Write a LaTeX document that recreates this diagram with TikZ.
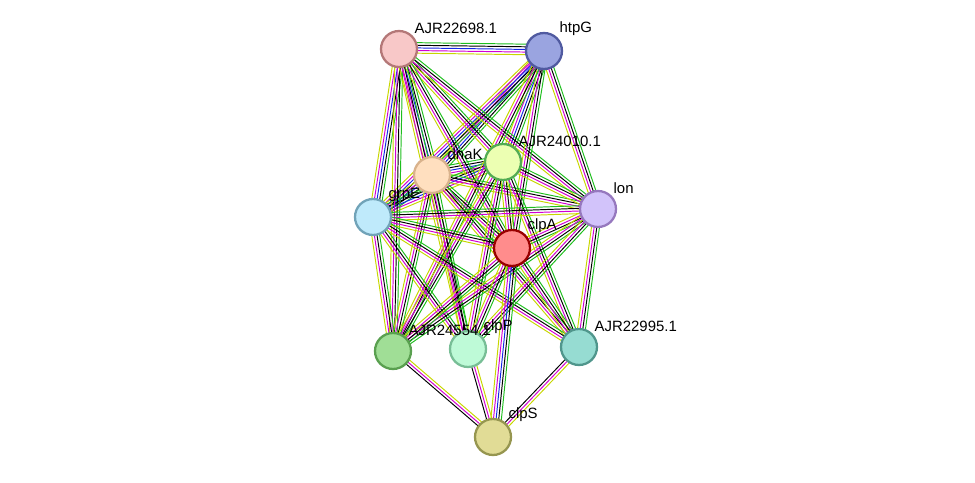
\documentclass[tikz,border=0pt]{standalone}
\usepackage{fontspec}
\setmainfont{Liberation Sans}
\usetikzlibrary{calc,backgrounds}
\definecolor{tm}{RGB}{199,214,0}
\definecolor{gn}{RGB}{30,190,30}
\definecolor{ex}{RGB}{210,0,210}
\definecolor{db}{RGB}{20,40,230}
\definecolor{cy}{RGB}{0,190,230}
\definecolor{fP1}{RGB}{248,200,200}\definecolor{bP1}{RGB}{180,120,120}
\definecolor{fhtpG}{RGB}{154,164,224}\definecolor{bhtpG}{RGB}{80,90,160}
\definecolor{flon}{RGB}{210,195,250}\definecolor{blon}{RGB}{150,120,190}
\definecolor{fP3}{RGB}{160,222,150}\definecolor{bP3}{RGB}{90,160,80}
\definecolor{fclpP}{RGB}{190,250,215}\definecolor{bclpP}{RGB}{120,190,150}
\definecolor{fP4}{RGB}{150,220,210}\definecolor{bP4}{RGB}{80,150,140}
\definecolor{fclpS}{RGB}{225,220,150}\definecolor{bclpS}{RGB}{150,150,80}
\newcommand\lnk[3]{\foreach \c [count=\i] in {#3}{\draw[\c, line width=0.55pt] ($(#1)!{(\i-2.5)*1.5pt}!90:(#2)$) -- ($(#2)!{(\i-2.5)*1.5pt}!-90:(#1)$);}}
\tikzset{
	prot/.style 2 args = {circle, minimum size=0.72cm, inner sep=0pt, line width=1.3pt, fill=#1, draw=#2},
	lab/.style = {font=\fontsize{8.5}{10}\selectfont, anchor=south west, inner sep=1pt}
}
\begin{document}
\begin{tikzpicture}[x = 0.02cm, y = -0.02cm]
	\useasboundingbox (0,0) rectangle (975,483);

	\node[prot={fP1}{bP1}] (P1) at (399,49) {};	%AJR22698.1
	\node[prot={fhtpG}{bhtpG}] (htpG) at (544,51) {};
	\node[prot={orange!25}{brown!60}] (dnaK) at (432,175) {};
	\node[prot={lime!30}{green!35!gray}] (P2) at (503,162) {};	%AJR24010.1
	\node[prot={cyan!25}{cyan!40!gray}] (grpE) at (373,217) {};
	\node[prot={flon}{blon}] (lon) at (598,209) {};
	\node[prot={red!45}{red!60!black}] (clpA) at (512,248) {};
	\node[prot={fP3}{bP3}] (P3) at (393,351) {};	%AJR24554.1
	\node[prot={fclpP}{bclpP}] (clpP) at (468,349) {};
	\node[prot={fP4}{bP4}] (P4) at (579,347) {};	%AJR22995.1
	\node[prot={fclpS}{bclpS}] (clpS) at (493,437) {};

	\node[lab] at (P1.north east) {AJR22698.1};
	\node[lab] at (htpG.north east) {htpG};
	\node[lab] at (dnaK.north east) {dnaK};
	\node[lab] at (P2.north east) {AJR24010.1};
	\node[lab] at (grpE.north east) {grpE};
	\node[lab] at (lon.north east) {lon};
	\node[lab] at (clpA.north east) {clpA};
	\node[lab] at (P3.north east) {AJR24554.1};
	\node[lab] at (clpP.north east) {clpP};
	\node[lab] at (P4.north east) {AJR22995.1};
	\node[lab] at (clpS.north east) {clpS};

	\begin{pgfonlayer}{background}
		% chaperone group
		\foreach \a/\b in {P1/htpG, P1/dnaK, P1/grpE, htpG/dnaK, htpG/grpE, htpG/P2, dnaK/grpE, dnaK/P2, grpE/P2}
			\lnk{\a}{\b}{tm,ex,db,black,gn};
		% the rest
		\foreach \a/\b in {P1/P2, P1/lon, P1/clpA, P1/P3, P1/clpP, htpG/lon, htpG/clpA, htpG/P3, dnaK/lon, dnaK/clpA,
			dnaK/P3, dnaK/clpP, dnaK/P4, P2/lon, P2/clpA, P2/P3, P2/clpP, P2/P4, grpE/lon, grpE/clpA, grpE/P3,
			grpE/clpP, grpE/P4, lon/clpA, lon/P3, lon/clpP, lon/P4, clpA/P3, clpA/clpP, clpA/P4}
			\lnk{\a}{\b}{tm,ex,black,gn};
		\foreach \a/\b in {clpS/P3, clpS/clpP, clpS/P4}
			\lnk{\a}{\b}{tm,ex,black};
		\lnk{clpA}{clpS}{tm,ex,db,black,gn};
	\end{pgfonlayer}
\end{tikzpicture}
\end{document}
